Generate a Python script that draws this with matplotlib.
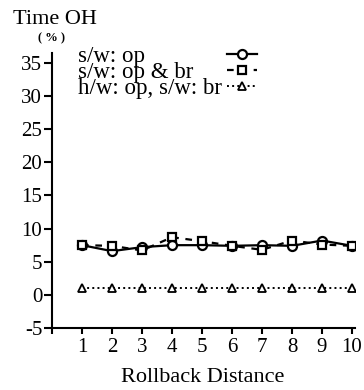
import numpy as np
import matplotlib
matplotlib.use("Agg")
import matplotlib.pyplot as plt

plt.rcParams['font.family'] = ['Liberation Serif', 'DejaVu Serif']

# data
distance = [1, 2, 3, 4, 5, 6, 7, 8, 9, 10]
sw_op = [7.5, 6.6, 7.2, 7.5, 7.5, 7.4, 7.5, 7.4, 8.2, 7.4]
sw_op_br = [7.5, 7.4, 6.7, 8.7, 8.1, 7.4, 6.8, 8.2, 7.6, 7.4]
hw_op_sw_br = [1.0, 1.0, 1.0, 1.0, 1.0, 1.0, 1.0, 1.0, 1.0, 1.0]
labels = ["s/w: op", "s/w: op & br", "h/w: op, s/w: br"]
yticks = [-5, 0, 5, 10, 15, 20, 25, 30, 35]

fig = plt.figure(figsize=(3.64, 3.90), dpi=100)
ax = fig.add_axes([52/364, 1-328/390, 303/364, 275/390])

l1, = ax.plot(distance, sw_op, '-', color='black', lw=1.6, marker='o', ms=6.5,
              mfc='white', mec='black', mew=1.6)
l2, = ax.plot(distance, sw_op_br, '--', color='black', lw=1.6, marker='s', ms=6,
              mfc='white', mec='black', mew=1.6, dashes=(3, 3))
l3, = ax.plot(distance, hw_op_sw_br, ':', color='black', lw=1.4, marker='^', ms=6,
              mfc='white', mec='black', mew=1.3)

ax.set_xlim(0, 10.1)
ax.set_ylim(-5, 36.5)
ax.set_xticks([0] + distance)
ax.set_xticklabels([''] + [str(d) for d in distance])
ax.set_yticks(yticks)
ax.set_yticklabels([str(t) for t in yticks])

for s in ['top', 'right']:
    ax.spines[s].set_visible(False)
for s in ['left', 'bottom']:
    ax.spines[s].set_linewidth(1.5)
ax.tick_params(axis='y', direction='out', length=6, width=1.5, pad=1, labelsize=15)
ax.tick_params(axis='x', direction='out', length=4, width=1.5, pad=3, labelsize=15)

# legend: texts on the left, symbols in a column on the right
blank = [plt.Line2D([], [], lw=0) for _ in labels]
leg_txt = ax.legend(blank, labels, loc='upper left', bbox_to_anchor=(0.085, 1.025),
                    frameon=False, fontsize=16.5, labelspacing=-0.22,
                    handlelength=0, handletextpad=0, borderpad=0, borderaxespad=0)
ax.add_artist(leg_txt)
ax.legend([l1, l2, l3], [' '] * 3, loc='upper left', bbox_to_anchor=(0.578, 1.025),
          frameon=False, fontsize=16.5, labelspacing=-0.22,
          handlelength=1.3, handletextpad=0, borderpad=0, borderaxespad=0)

fig.text(13/364, 1-20/390, "Time OH", fontsize=16, ha='left', va='center')
fig.text(51/364, 1-38/390, "( % )", fontsize=9, ha='center', va='center', fontweight='bold')
fig.text(203/364, 1-377/390, "Rollback Distance", fontsize=16, ha='center', va='center')

fig.savefig("out.png", dpi=100)
